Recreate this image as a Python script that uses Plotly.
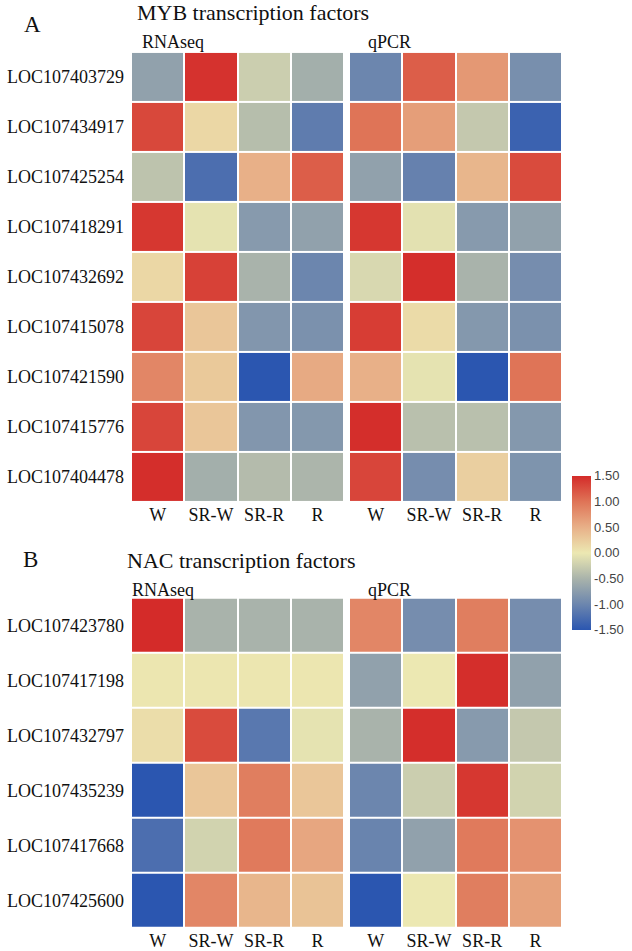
import plotly.graph_objects as go

W_PX, H_PX = 632, 951

conditions = ["W", "SR-W", "SR-R", "R"]

myb_genes = ["LOC107403729", "LOC107434917", "LOC107425254", "LOC107418291",
             "LOC107432692", "LOC107415078", "LOC107421590", "LOC107415776",
             "LOC107404478"]
nac_genes = ["LOC107423780", "LOC107417198", "LOC107432797", "LOC107435239",
             "LOC107417668", "LOC107425600"]

myb_rnaseq = [
    [-0.70, 1.45, -0.25, -0.55],
    [1.30, 0.15, -0.40, -1.10],
    [-0.35, -1.25, 0.50, 1.15],
    [1.42, -0.05, -0.78, -0.70],
    [0.15, 1.35, -0.50, -1.00],
    [1.32, 0.30, -0.82, -0.88],
    [0.85, 0.28, -1.50, 0.55],
    [1.32, 0.30, -0.82, -0.80],
    [1.48, -0.55, -0.42, -0.48],
]
myb_qpcr = [
    [-1.00, 1.15, 0.70, -0.90],
    [1.00, 0.65, -0.30, -1.38],
    [-0.70, -1.05, 0.45, 1.28],
    [1.42, -0.07, -0.78, -0.70],
    [-0.15, 1.48, -0.50, -0.92],
    [1.38, 0.12, -0.80, -0.88],
    [0.50, -0.05, -1.50, 1.00],
    [1.48, -0.38, -0.38, -0.80],
    [1.32, -0.92, 0.22, -0.85],
]
nac_rnaseq = [
    [1.50, -0.50, -0.50, -0.50],
    [0.02, 0.02, 0.02, 0.02],
    [0.10, 1.28, -1.15, -0.05],
    [-1.50, 0.30, 0.92, 0.30],
    [-1.25, -0.20, 0.95, 0.58],
    [-1.50, 0.85, 0.45, 0.33],
]
nac_qpcr = [
    [0.85, -0.92, 0.92, -0.92],
    [-0.70, 0.00, 1.48, -0.70],
    [-0.50, 1.48, -0.78, -0.30],
    [-1.00, -0.25, 1.42, -0.20],
    [-1.02, -0.70, 0.95, 0.75],
    [-1.50, 0.00, 0.92, 0.62],
]

cbar_ticks = [1.5, 1.0, 0.5, 0.0, -0.5, -1.0, -1.5]
cbar_text = ["1.50", "1.00", "0.50", "0.00", "-0.50", "-1.00", "-1.50"]

ZMIN, ZMAX = -1.5, 1.5
stops = [(-1.5, "#2b56b0"), (-1.0, "#6c86ae"), (-0.5, "#a9b3ab"), (0.0, "#ece8b2"),
         (0.5, "#e8b088"), (1.0, "#df7457"), (1.5, "#d42b29")]
colorscale = [[(v - ZMIN) / (ZMAX - ZMIN), c] for v, c in stops]

SERIF = "Liberation Serif, Times New Roman, serif"
SANS = "Liberation Sans, Arial, sans-serif"


def px_x(x):
    return x / W_PX


def px_y(y):
    return 1 - y / H_PX


fig = go.Figure()

panels = [
    (myb_rnaseq, myb_genes, "x", "y", True),
    (myb_qpcr, myb_genes, "x2", "y2", False),
    (nac_rnaseq, nac_genes, "x3", "y3", False),
    (nac_qpcr, nac_genes, "x4", "y4", False),
]
for z, genes, xa, ya, show_cb in panels:
    fig.add_trace(go.Heatmap(
        z=z, x=conditions, y=genes, xaxis=xa, yaxis=ya,
        colorscale=colorscale, zmin=ZMIN, zmax=ZMAX,
        xgap=2, ygap=2, showscale=show_cb, hoverinfo="skip",
        colorbar=dict(
            x=px_x(572), xanchor="left", xpad=0,
            y=px_y(554), yanchor="middle", ypad=0,
            len=154 / H_PX, lenmode="fraction", thickness=19,
            outlinewidth=0, tickvals=cbar_ticks, ticktext=cbar_text,
            ticks="", tickfont=dict(family=SANS, size=13, color="#444"),
        ) if show_cb else None,
    ))

xdom_l = [px_x(131), px_x(344)]
xdom_r = [px_x(349), px_x(562)]
ydom_a = [px_y(503), px_y(52)]
ydom_b = [px_y(930), px_y(599)]

xcommon = dict(ticks="", showline=False, showgrid=False, zeroline=False, fixedrange=True,
               tickfont=dict(family=SERIF, size=18, color="#111"))
ycommon = dict(ticks="", showline=False, showgrid=False, zeroline=False, fixedrange=True,
               autorange="reversed", tickfont=dict(family=SERIF, size=18, color="#111"),
               ticklabelstandoff=6)

fig.update_layout(
    width=W_PX, height=H_PX,
    margin=dict(l=0, r=0, t=0, b=0),
    paper_bgcolor="white", plot_bgcolor="white",
    xaxis=dict(domain=xdom_l, anchor="y", **xcommon),
    yaxis=dict(domain=ydom_a, anchor="x", **ycommon),
    xaxis2=dict(domain=xdom_r, anchor="y2", **xcommon),
    yaxis2=dict(domain=ydom_a, anchor="x2", showticklabels=False, **ycommon),
    xaxis3=dict(domain=xdom_l, anchor="y3", **xcommon),
    yaxis3=dict(domain=ydom_b, anchor="x3", **ycommon),
    xaxis4=dict(domain=xdom_r, anchor="y4", **xcommon),
    yaxis4=dict(domain=ydom_b, anchor="x4", showticklabels=False, **ycommon),
)

texts = [
    ("A", 22, 25, 23),
    ("MYB transcription factors", 135, 13, 22),
    ("RNAseq", 140, 42, 18),
    ("qPCR", 366, 42, 18),
    ("B", 21, 561, 23),
    ("NAC transcription factors", 125, 562, 22),
    ("RNAseq", 130, 591, 18),
    ("qPCR", 366, 591, 18),
]
for t, x, y, s in texts:
    fig.add_annotation(text=t, x=px_x(x), y=px_y(y), xref="paper", yref="paper",
                       xanchor="left", yanchor="middle", showarrow=False,
                       font=dict(family=SERIF, size=s, color="#111"))

fig.write_html(
    "out.html",
    config={"displayModeBar": False, "staticPlot": True},
    post_script="document.documentElement.style.margin='0';"
                "document.body.style.margin='0';"
                "document.body.style.overflow='hidden';",
)
